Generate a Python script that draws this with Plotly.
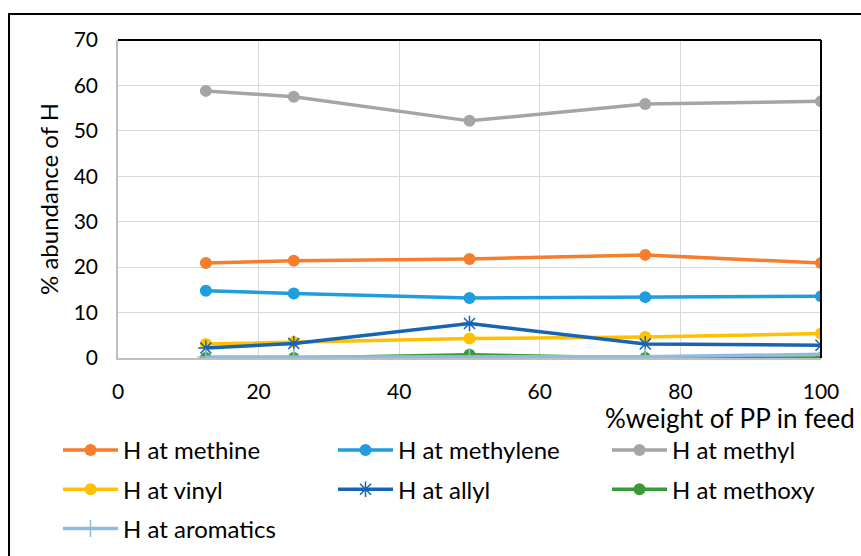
import plotly.graph_objects as go

# PP content in the feed (%wt)
pp_weight = [12.5, 25, 50, 75, 100]

# % abundance of H by environment
h_methine = [20.9, 21.4, 21.8, 22.7, 20.9]
h_methylene = [14.8, 14.2, 13.2, 13.4, 13.6]
h_methyl = [58.8, 57.5, 52.2, 55.9, 56.5]
h_vinyl = [3.1, 3.5, 4.3, 4.6, 5.4]
h_allyl = [2.2, 3.2, 7.6, 3.1, 2.8]
h_methoxy = [0.0, 0.0, 0.7, 0.0, 0.0]
h_aromatics = [0.2, 0.2, 0.3, 0.3, 0.8]

FONT = "Lato"
TICK_FS = 21
TEXT_FS = 24

# (name, values, colour, marker, legend column)
series = [
    ("H at methine", h_methine, "#F57D2C", dict(symbol="circle", size=12), "legend"),
    ("H at methylene", h_methylene, "#1F9DDD", dict(symbol="circle", size=12), "legend2"),
    ("H at methyl", h_methyl, "#A5A5A5", dict(symbol="circle", size=12), "legend3"),
    ("H at vinyl", h_vinyl, "#FFC000", dict(symbol="circle", size=12), "legend"),
    ("H at allyl", h_allyl, "#1764B4",
     dict(symbol="asterisk-open", size=13, line=dict(width=1.5, color="#1764B4")), "legend2"),
    ("H at methoxy", h_methoxy, "#3A9A35", dict(symbol="circle", size=12), "legend3"),
    ("H at aromatics", h_aromatics, "#8DBBE2",
     dict(symbol="cross-thin-open", size=12, line=dict(width=1.5, color="#8DBBE2")), "legend"),
]

fig = go.Figure()
for name, vals, color, marker, leg in series:
    marker = dict(marker)
    marker.setdefault("color", color)
    fig.add_trace(go.Scatter(
        x=pp_weight, y=vals, name=name, mode="lines+markers",
        line=dict(color=color, width=3.5), marker=marker,
        legend=leg, legendgroup=name, hoverinfo="skip",
    ))

L, R, T, B = 118, 40, 40, 198
W, H = 861, 556
pw, ph = W - L - R, H - T - B


def px_x(p):
    return (p - L) / pw


def px_y(p):
    return (H - B - p) / ph


legend_common = dict(
    orientation="v", xanchor="left", yanchor="top", y=px_y(428),
    itemwidth=55, tracegroupgap=5,
    bgcolor="rgba(0,0,0,0)", font=dict(family=FONT, size=TEXT_FS, color="#000000"),
    itemclick=False, itemdoubleclick=False,
)

fig.update_layout(
    width=W, height=H,
    margin=dict(l=L, r=R, t=T, b=B, autoexpand=False),
    paper_bgcolor="white", plot_bgcolor="white",
    font=dict(family=FONT, size=TEXT_FS, color="#000000"),
    showlegend=True,
    legend=dict(legend_common, x=px_x(58)),
    legend2=dict(legend_common, x=px_x(333)),
    legend3=dict(legend_common, x=px_x(607)),
    xaxis=dict(
        range=[0, 100], dtick=20, tick0=0, showgrid=True, gridcolor="#D9D9D9",
        gridwidth=1.3, zeroline=False, showline=True, linecolor="#BFBFBF",
        linewidth=1.5, ticks="", ticklabelstandoff=14,
        tickfont=dict(family=FONT, size=TICK_FS),
    ),
    yaxis=dict(
        range=[0, 70], dtick=10, tick0=0, showgrid=True, gridcolor="#D9D9D9",
        gridwidth=1.3, zeroline=False, showline=True, linecolor="#BFBFBF",
        linewidth=1.5, ticks="", ticklabelstandoff=14,
        tickfont=dict(family=FONT, size=TICK_FS),
    ),
    annotations=[
        dict(text="%weight of PP in feed", xref="paper", yref="paper",
             x=px_x(857), y=px_y(418), xanchor="right", yanchor="middle",
             showarrow=False, font=dict(family=FONT, size=26)),
        dict(text="% abundance of H", xref="paper", yref="paper",
             x=px_x(48), y=0.5, xanchor="center", yanchor="middle",
             textangle=-90, showarrow=False, font=dict(family=FONT, size=TEXT_FS)),
    ],
    shapes=[
        # plot frame: top and right edges
        dict(type="line", xref="paper", yref="paper", x0=0, x1=1, y0=1, y1=1,
             line=dict(color="#000000", width=2)),
        dict(type="line", xref="paper", yref="paper", x0=1, x1=1, y0=0, y1=1,
             line=dict(color="#000000", width=2)),
        # chart outer border
        dict(type="rect", xref="paper", yref="paper",
             x0=px_x(9), x1=px_x(880), y0=px_y(580), y1=px_y(14),
             line=dict(color="#000000", width=2), fillcolor="rgba(0,0,0,0)",
             layer="below"),
    ],
)

fig.write_html("out.html")
